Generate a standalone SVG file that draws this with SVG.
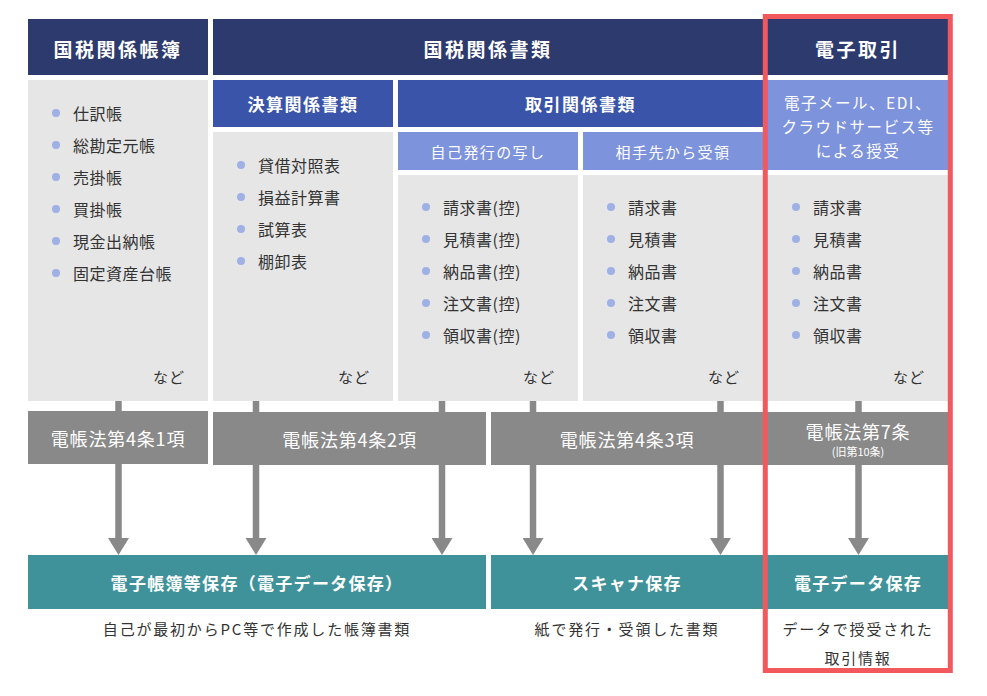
<svg xmlns="http://www.w3.org/2000/svg" width="987" height="696" viewBox="0 0 987 696">
<defs>
<style>
text{font-family:"Noto Sans CJK JP","Noto Sans",sans-serif;}
.nav{fill:#2d3a6d}
.mid{fill:#3954a8}
.lt{fill:#7d93dc}
.gr{fill:#e6e6e6}
.law{fill:#898989}
.teal{fill:#3f929a}
.bul{fill:#9fb0e4}
.h1{font-size:19px;font-weight:700;fill:#fff;letter-spacing:2.5px;text-anchor:middle;dominant-baseline:central}
.h2{font-size:17px;font-weight:700;fill:#fff;letter-spacing:1.5px;text-anchor:middle;dominant-baseline:central}
.h3{font-size:15px;fill:#fff;letter-spacing:1.4px;text-anchor:middle;dominant-baseline:central}
.h4{font-size:15.5px;fill:#fff;letter-spacing:1.5px;text-anchor:middle;dominant-baseline:central}
.li{font-size:16px;fill:#333;letter-spacing:0.5px;dominant-baseline:central}
.nd{font-size:15px;fill:#333;letter-spacing:1px;text-anchor:end;dominant-baseline:central}
.lw{font-size:18px;fill:#fff;letter-spacing:0.8px;text-anchor:middle;dominant-baseline:central}
.sm{font-size:11px;fill:#fff;text-anchor:middle;dominant-baseline:central}
.tl{font-size:17px;font-weight:700;fill:#fff;letter-spacing:1.3px;text-anchor:middle;dominant-baseline:central}
.cap{font-size:15px;fill:#333;letter-spacing:1.8px;text-anchor:middle;dominant-baseline:central}
.con{stroke:#898989;stroke-width:6.5;fill:none;marker-end:url(#ah)}
</style>
<marker id="ah" markerUnits="userSpaceOnUse" viewBox="0 -10.5 17 21" refX="0" refY="0" markerWidth="17" markerHeight="21" orient="auto">
<path d="M0,-10.5 L17,0 L0,10.5 Z" fill="#898989"/>
</marker>
</defs>
<rect width="987" height="696" fill="#fff"/>

<g id="connectors">
<line class="con" x1="118.5" y1="400" x2="118.5" y2="538"/>
<line class="con" x1="256" y1="400" x2="256" y2="538"/>
<line class="con" x1="442" y1="400" x2="442" y2="538"/>
<line class="con" x1="533" y1="400" x2="533" y2="538"/>
<line class="con" x1="720.5" y1="400" x2="720.5" y2="538"/>
<line class="con" x1="858.5" y1="400" x2="858.5" y2="538"/>
</g>

<g id="hdr-books">
<rect class="nav" x="28" y="19" width="180" height="56"/>
<text class="h1" x="118" y="48">国税関係帳簿</text>
</g>
<g id="hdr-docs">
<rect class="nav" x="213" y="19" width="552" height="56"/>
<text class="h1" x="488" y="48">国税関係書類</text>
</g>
<g id="hdr-etrans">
<rect class="nav" x="765" y="19" width="185" height="56"/>
<text class="h1" x="858" y="48">電子取引</text>
</g>

<g id="list-books">
<rect class="gr" x="28" y="80" width="180" height="321"/>
<circle class="bul" cx="56" cy="113" r="4"/><text class="li" x="73" y="113">仕訳帳</text>
<circle class="bul" cx="56" cy="145" r="4"/><text class="li" x="73" y="145">総勘定元帳</text>
<circle class="bul" cx="56" cy="177" r="4"/><text class="li" x="73" y="177">売掛帳</text>
<circle class="bul" cx="56" cy="209" r="4"/><text class="li" x="73" y="209">買掛帳</text>
<circle class="bul" cx="56" cy="241" r="4"/><text class="li" x="73" y="241">現金出納帳</text>
<circle class="bul" cx="56" cy="273" r="4"/><text class="li" x="73" y="273">固定資産台帳</text>
<text class="nd" x="185" y="376">など</text>
</g>

<g id="settlement">
<rect class="mid" x="213" y="80" width="180" height="47"/>
<text class="h2" x="303" y="103">決算関係書類</text>
<rect class="gr" x="213" y="132" width="180" height="269"/>
<circle class="bul" cx="241" cy="165" r="4"/><text class="li" x="258" y="165">貸借対照表</text>
<circle class="bul" cx="241" cy="197" r="4"/><text class="li" x="258" y="197">損益計算書</text>
<circle class="bul" cx="241" cy="229" r="4"/><text class="li" x="258" y="229">試算表</text>
<circle class="bul" cx="241" cy="261" r="4"/><text class="li" x="258" y="261">棚卸表</text>
<text class="nd" x="370" y="376">など</text>
</g>

<g id="transaction">
<rect class="mid" x="398" y="80" width="367" height="47"/>
<text class="h2" x="580.5" y="103">取引関係書類</text>
</g>

<g id="self-issued">
<rect class="lt" x="398" y="132" width="180" height="38"/>
<text class="h3" x="488" y="151">自己発行の写し</text>
<rect class="gr" x="398" y="175" width="180" height="226"/>
<circle class="bul" cx="426" cy="207" r="4"/><text class="li" x="443" y="207">請求書(控)</text>
<circle class="bul" cx="426" cy="239" r="4"/><text class="li" x="443" y="239">見積書(控)</text>
<circle class="bul" cx="426" cy="271" r="4"/><text class="li" x="443" y="271">納品書(控)</text>
<circle class="bul" cx="426" cy="303" r="4"/><text class="li" x="443" y="303">注文書(控)</text>
<circle class="bul" cx="426" cy="335" r="4"/><text class="li" x="443" y="335">領収書(控)</text>
<text class="nd" x="555" y="376">など</text>
</g>

<g id="received">
<rect class="lt" x="583" y="132" width="182" height="38"/>
<text class="h3" x="673" y="151">相手先から受領</text>
<rect class="gr" x="583" y="175" width="182" height="226"/>
<circle class="bul" cx="611" cy="207" r="4"/><text class="li" x="628" y="207">請求書</text>
<circle class="bul" cx="611" cy="239" r="4"/><text class="li" x="628" y="239">見積書</text>
<circle class="bul" cx="611" cy="271" r="4"/><text class="li" x="628" y="271">納品書</text>
<circle class="bul" cx="611" cy="303" r="4"/><text class="li" x="628" y="303">注文書</text>
<circle class="bul" cx="611" cy="335" r="4"/><text class="li" x="628" y="335">領収書</text>
<text class="nd" x="740" y="376">など</text>
</g>

<g id="electronic">
<rect class="lt" x="765" y="80" width="185" height="90"/>
<text class="h4" x="858" y="102">電子メール、EDI、</text>
<text class="h4" x="858" y="126">クラウドサービス等</text>
<text class="h4" x="858" y="150">による授受</text>
<rect class="gr" x="765" y="175" width="185" height="226"/>
<circle class="bul" cx="796" cy="207" r="4"/><text class="li" x="813" y="207">請求書</text>
<circle class="bul" cx="796" cy="239" r="4"/><text class="li" x="813" y="239">見積書</text>
<circle class="bul" cx="796" cy="271" r="4"/><text class="li" x="813" y="271">納品書</text>
<circle class="bul" cx="796" cy="303" r="4"/><text class="li" x="813" y="303">注文書</text>
<circle class="bul" cx="796" cy="335" r="4"/><text class="li" x="813" y="335">領収書</text>
<text class="nd" x="925" y="376">など</text>
</g>

<g id="law-4-1">
<rect class="law" x="28" y="411" width="180" height="53"/>
<text class="lw" x="118" y="438">電帳法第4条1項</text>
</g>
<g id="law-4-2">
<rect class="law" x="213" y="412" width="273" height="53"/>
<text class="lw" x="349.5" y="439">電帳法第4条2項</text>
</g>
<g id="law-4-3">
<rect class="law" x="491" y="412" width="274" height="53"/>
<text class="lw" x="627" y="439">電帳法第4条3項</text>
</g>
<g id="law-7">
<rect class="law" x="765" y="412" width="185" height="53"/>
<text class="lw" x="858" y="431">電帳法第7条</text>
<text class="sm" x="858" y="451">(旧第10条)</text>
</g>

<g id="store-ebook">
<rect class="teal" x="28" y="555" width="458" height="54"/>
<text class="tl" x="257" y="582">電子帳簿等保存（電子データ保存）</text>
<text class="cap" x="257" y="628">自己が最初からPC等で作成した帳簿書類</text>
</g>
<g id="store-scan">
<rect class="teal" x="491" y="555" width="274" height="54"/>
<text class="tl" x="627" y="582">スキャナ保存</text>
<text class="cap" x="627" y="628">紙で発行・受領した書類</text>
</g>
<g id="store-edata">
<rect class="teal" x="765" y="555" width="185" height="54"/>
<text class="tl" x="858" y="582">電子データ保存</text>
<text class="cap" x="858" y="628">データで授受された</text>
<text class="cap" x="858" y="657">取引情報</text>
</g>

<g id="highlight">
<rect x="765.3" y="16.5" width="185" height="654" fill="none" stroke="#f2595c" stroke-width="5"/>
</g>
</svg>
